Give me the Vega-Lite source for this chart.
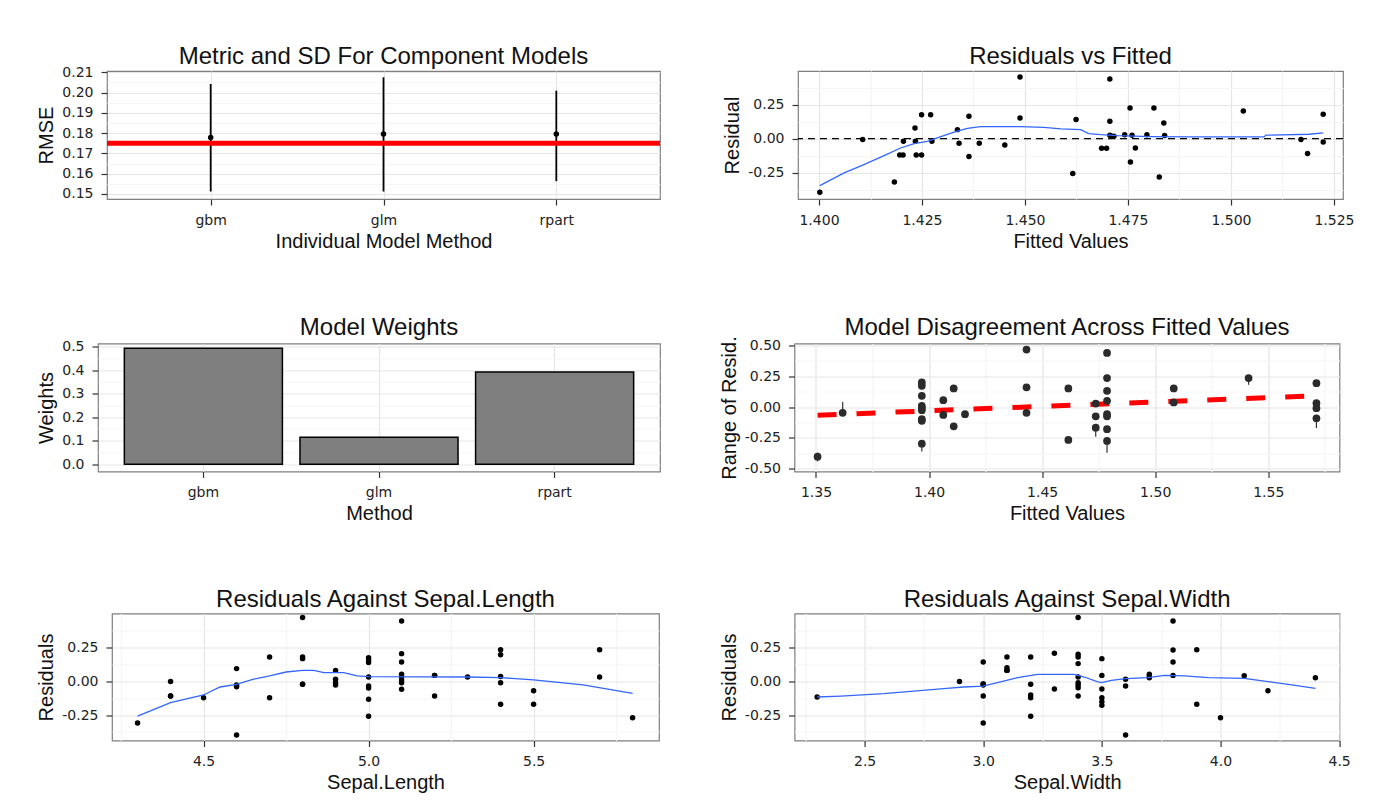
{
  "$schema": "https://vega.github.io/schema/vega-lite/v6.json",
  "background": "white",
  "padding": {"left": 35, "top": 44, "right": 5, "bottom": 5},
  "spacing": 62.5,
  "config": {
    "font": "Liberation Sans",
    "view": {"stroke": "#7f7f7f", "strokeWidth": 1.2, "fill": "white"},
    "axis": {"domain": false, "grid": true, "gridColor": "#e5e5e5", "gridWidth": 1.2, "tickColor": "#333333", "tickSize": 6, "tickWidth": 1.2, "labelFont": "DejaVu Sans", "labelFontSize": 14, "labelColor": "#222222", "labelFlush": false, "labelOverlap": false, "titleFont": "Liberation Sans", "titleFontSize": 20, "titleFontWeight": "normal", "titleColor": "#111111"},
    "axisX": {"labelPadding": 8, "titlePadding": 4, "labelAngle": 0},
    "axisY": {"labelPadding": 8, "titlePadding": 5},
    "title": {"font": "Liberation Sans", "fontSize": 24, "fontWeight": "normal", "color": "#111111", "offset": 4, "frame": "group", "anchor": "middle"}
  },
  "vconcat": [
    {
      "spacing": 0,
      "hconcat": [
        {"width": 1, "height": 1, "data": {"values": []}, "mark": "point", "view": {"stroke": null, "fill": "white"}},
        {
          "spacing": 58,
          "hconcat": [
            {
              "width": 553, "height": 128,
              "title": {"text": "Metric and SD For Component Models", "offset": -4.2},
              "data": {"values": [
                {"method": "gbm", "RMSE": 0.1778, "lo": 0.1512, "hi": 0.2042},
                {"method": "glm", "RMSE": 0.1795, "lo": 0.1512, "hi": 0.2075},
                {"method": "rpart", "RMSE": 0.1795, "lo": 0.1563, "hi": 0.2009}
              ]},
              "layer": [
                {
                  "mark": {"type": "rule", "color": "black", "strokeWidth": 1.8},
                  "encoding": {
                    "x": {"field": "method", "type": "nominal", "scale": {"type": "point", "padding": 0.6}, "axis": {"title": "Individual Model Method"}},
                    "y": {"field": "lo", "type": "quantitative", "scale": {"domain": [0.1475, 0.2106], "nice": false, "zero": false},
                      "axis": {"title": "RMSE", "tickCount": 100, "labelOverlap": false, "values": [0.15, 0.155, 0.16, 0.165, 0.17, 0.175, 0.18, 0.185, 0.19, 0.195, 0.2, 0.205, 0.21],
                        "labelExpr": "abs(datum.value*100-round(datum.value*100))<0.001 ? format(datum.value,'.2f') : ''",
                        "labelFontSize": {"condition": {"test": "abs(datum.value*100-round(datum.value*100))<0.001", "value": 14}, "value": 0},
                        "gridColor": {"condition": {"test": "abs(datum.value*100-round(datum.value*100))<0.001", "value": "#e5e5e5"}, "value": "#f5f5f5"},
                        "tickOpacity": {"condition": {"test": "abs(datum.value*100-round(datum.value*100))<0.001", "value": 1}, "value": 0}}},
                    "y2": {"field": "hi"}
                  }
                },
                {
                  "data": {"values": [{"RMSE": 0.175}]},
                  "mark": {"type": "rule", "color": "#ff0000", "strokeWidth": 5},
                  "encoding": {
                    "y": {"field": "RMSE", "type": "quantitative", "scale": {"domain": [0.1475, 0.2106], "nice": false, "zero": false}}
                  }
                },
                {
                  "mark": {"type": "point", "filled": true, "color": "black", "size": 30, "opacity": 1},
                  "encoding": {
                    "x": {"field": "method", "type": "nominal", "scale": {"type": "point", "padding": 0.6}},
                    "y": {"field": "RMSE", "type": "quantitative", "scale": {"domain": [0.1475, 0.2106], "nice": false, "zero": false}}
                  }
                }
              ]
            },
            {
              "width": 545, "height": 128,
              "title": {"text": "Residuals vs Fitted", "offset": 1.6},
              "layer": [
                {
                  "data": {"values": [
                    {"fitted": 1.4002, "residual": -0.395}, {"fitted": 1.4106, "residual": -0.007}, {"fitted": 1.4183, "residual": -0.319},
                    {"fitted": 1.4196, "residual": -0.12}, {"fitted": 1.4204, "residual": -0.12}, {"fitted": 1.4205, "residual": -0.02},
                    {"fitted": 1.4233, "residual": 0.078}, {"fitted": 1.4234, "residual": -0.02}, {"fitted": 1.4236, "residual": -0.12},
                    {"fitted": 1.4249, "residual": -0.12}, {"fitted": 1.4249, "residual": 0.176}, {"fitted": 1.4271, "residual": 0.176},
                    {"fitted": 1.4274, "residual": -0.02}, {"fitted": 1.4336, "residual": 0.066}, {"fitted": 1.434, "residual": -0.034},
                    {"fitted": 1.4364, "residual": 0.164}, {"fitted": 1.4364, "residual": -0.132}, {"fitted": 1.4389, "residual": -0.034},
                    {"fitted": 1.4451, "residual": -0.047}, {"fitted": 1.4488, "residual": 0.453}, {"fitted": 1.4488, "residual": 0.152},
                    {"fitted": 1.4616, "residual": -0.257}, {"fitted": 1.4624, "residual": 0.14}, {"fitted": 1.4686, "residual": -0.071},
                    {"fitted": 1.4698, "residual": -0.071}, {"fitted": 1.4706, "residual": 0.439}, {"fitted": 1.4706, "residual": 0.127},
                    {"fitted": 1.4706, "residual": 0.025}, {"fitted": 1.471, "residual": 0.017}, {"fitted": 1.4716, "residual": 0.017},
                    {"fitted": 1.4742, "residual": 0.029}, {"fitted": 1.4755, "residual": 0.225}, {"fitted": 1.4756, "residual": -0.172},
                    {"fitted": 1.476, "residual": 0.025}, {"fitted": 1.4768, "residual": -0.069}, {"fitted": 1.4796, "residual": 0.029},
                    {"fitted": 1.4813, "residual": 0.225}, {"fitted": 1.4826, "residual": -0.282}, {"fitted": 1.4837, "residual": 0.115},
                    {"fitted": 1.4839, "residual": 0.022}, {"fitted": 1.503, "residual": 0.203}, {"fitted": 1.517, "residual": -0.007},
                    {"fitted": 1.5186, "residual": -0.11}, {"fitted": 1.5224, "residual": 0.179}, {"fitted": 1.5224, "residual": -0.025}
                  ]},
                  "mark": {"type": "point", "filled": true, "color": "black", "size": 30, "opacity": 1},
                  "encoding": {
                    "x": {"field": "fitted", "type": "quantitative", "scale": {"domain": [1.3949, 1.5272], "nice": false, "zero": false},
                      "axis": {"title": "Fitted Values", "tickCount": 100, "labelOverlap": false, "values": [1.4, 1.4125, 1.425, 1.4375, 1.45, 1.4625, 1.475, 1.4875, 1.5, 1.5125, 1.525],
                        "labelExpr": "abs(datum.value*40-round(datum.value*40))<0.001 ? format(datum.value,'.3f') : ''",
                        "labelFontSize": {"condition": {"test": "abs(datum.value*40-round(datum.value*40))<0.001", "value": 14}, "value": 0},
                        "gridColor": {"condition": {"test": "abs(datum.value*40-round(datum.value*40))<0.001", "value": "#e5e5e5"}, "value": "#f5f5f5"},
                        "tickOpacity": {"condition": {"test": "abs(datum.value*40-round(datum.value*40))<0.001", "value": 1}, "value": 0}}},
                    "y": {"field": "residual", "type": "quantitative", "scale": {"domain": [-0.444, 0.497], "nice": false, "zero": false},
                      "axis": {"title": "Residual", "tickCount": 100, "labelOverlap": false, "values": [-0.375, -0.25, -0.125, 0, 0.125, 0.25, 0.375],
                        "labelExpr": "abs(datum.value*4-round(datum.value*4))<0.001 ? (datum.value<0 ? '-' : '') + format(abs(datum.value),'.2f') : ''",
                        "labelFontSize": {"condition": {"test": "abs(datum.value*4-round(datum.value*4))<0.001", "value": 14}, "value": 0},
                        "gridColor": {"condition": {"test": "abs(datum.value*4-round(datum.value*4))<0.001", "value": "#e5e5e5"}, "value": "#f5f5f5"},
                        "tickOpacity": {"condition": {"test": "abs(datum.value*4-round(datum.value*4))<0.001", "value": 1}, "value": 0}}}
                  }
                },
                {
                  "data": {"values": [{"residual": 0}]},
                  "mark": {"type": "rule", "color": "black", "strokeWidth": 1.3, "strokeDash": [7, 5]},
                  "encoding": {
                    "y": {"field": "residual", "type": "quantitative", "scale": {"domain": [-0.444, 0.497], "nice": false, "zero": false}}
                  }
                },
                {
                  "data": {"values": [
                    {"fitted": 1.4002, "residual": -0.346}, {"fitted": 1.4061, "residual": -0.252}, {"fitted": 1.4109, "residual": -0.191},
                    {"fitted": 1.4158, "residual": -0.125}, {"fitted": 1.4198, "residual": -0.069}, {"fitted": 1.4231, "residual": -0.037},
                    {"fitted": 1.4263, "residual": -0.02}, {"fitted": 1.4287, "residual": 0.005}, {"fitted": 1.4328, "residual": 0.047},
                    {"fitted": 1.436, "residual": 0.076}, {"fitted": 1.4392, "residual": 0.088}, {"fitted": 1.4489, "residual": 0.088},
                    {"fitted": 1.4546, "residual": 0.083}, {"fitted": 1.4587, "residual": 0.071}, {"fitted": 1.4635, "residual": 0.066},
                    {"fitted": 1.4655, "residual": 0.037}, {"fitted": 1.4684, "residual": 0.029}, {"fitted": 1.4724, "residual": 0.022},
                    {"fitted": 1.4805, "residual": 0.015}, {"fitted": 1.4906, "residual": 0.012}, {"fitted": 1.508, "residual": 0.012},
                    {"fitted": 1.5085, "residual": 0.025}, {"fitted": 1.519, "residual": 0.032}, {"fitted": 1.5224, "residual": 0.042}
                  ]},
                  "mark": {"type": "line", "color": "#3366ff", "strokeWidth": 1.3},
                  "encoding": {
                    "x": {"field": "fitted", "type": "quantitative", "scale": {"domain": [1.3949, 1.5272], "nice": false, "zero": false}},
                    "y": {"field": "residual", "type": "quantitative", "scale": {"domain": [-0.444, 0.497], "nice": false, "zero": false}}
                  }
                }
              ]
            }
          ]
        }
      ]
    },
    {
      "spacing": 62,
      "vconcat": [
        {
          "spacing": 0,
          "hconcat": [
            {"width": 1, "height": 1, "data": {"values": []}, "mark": "point", "view": {"stroke": null, "fill": "white"}},
            {
              "spacing": 57.5,
              "hconcat": [
                {
                  "width": 562, "height": 128,
                  "title": {"text": "Model Weights", "offset": -0.3},
                  "data": {"values": [
                    {"Method": "gbm", "Weights": 0.493},
                    {"Method": "glm", "Weights": 0.115},
                    {"Method": "rpart", "Weights": 0.392}
                  ]},
                  "mark": {"type": "bar", "fill": "#7f7f7f", "stroke": "black", "strokeWidth": 1.5},
                  "encoding": {
                    "x": {"field": "Method", "type": "nominal", "scale": {"paddingInner": 0.1, "paddingOuter": 0.15}, "axis": {"title": "Method", "bandPosition": 0.5}},
                    "y": {"field": "Weights", "type": "quantitative", "scale": {"domain": [-0.031, 0.513], "nice": false, "zero": false},
                      "axis": {"title": "Weights", "tickCount": 100, "labelOverlap": false, "values": [0, 0.05, 0.1, 0.15, 0.2, 0.25, 0.3, 0.35, 0.4, 0.45, 0.5],
                        "labelExpr": "abs(datum.value*10-round(datum.value*10))<0.001 ? format(datum.value,'.1f') : ''",
                        "labelFontSize": {"condition": {"test": "abs(datum.value*10-round(datum.value*10))<0.001", "value": 14}, "value": 0},
                        "gridColor": {"condition": {"test": "abs(datum.value*10-round(datum.value*10))<0.001", "value": "#e5e5e5"}, "value": "#f5f5f5"},
                        "tickOpacity": {"condition": {"test": "abs(datum.value*10-round(datum.value*10))<0.001", "value": 1}, "value": 0}}}
                  }
                },
                {
                  "width": 545, "height": 128,
                  "title": {"text": "Model Disagreement Across Fitted Values", "offset": -4},
                  "layer": [
                    {
                      "data": {"values": [
                        {"fitted": 1.3507, "resid": -0.44, "hi": -0.37}, {"fitted": 1.3618, "resid": -0.06, "hi": 0.04},
                        {"fitted": 1.3968, "resid": -0.36, "hi": -0.28}, {"fitted": 1.4787, "resid": -0.37, "hi": -0.26},
                        {"fitted": 1.4737, "resid": -0.24, "hi": -0.15}, {"fitted": 1.5413, "resid": 0.18, "hi": 0.24},
                        {"fitted": 1.5713, "resid": -0.17, "hi": -0.08}
                      ]},
                      "mark": {"type": "rule", "color": "#333333", "strokeWidth": 1.2},
                      "encoding": {
                        "x": {"field": "fitted", "type": "quantitative", "scale": {"domain": [1.3405, 1.5815], "nice": false, "zero": false},
                          "axis": {"title": "Fitted Values", "tickCount": 100, "labelOverlap": false, "values": [1.35, 1.375, 1.4, 1.425, 1.45, 1.475, 1.5, 1.525, 1.55, 1.575],
                            "labelExpr": "abs(datum.value*20-round(datum.value*20))<0.001 ? format(datum.value,'.2f') : ''",
                            "labelFontSize": {"condition": {"test": "abs(datum.value*20-round(datum.value*20))<0.001", "value": 14}, "value": 0},
                            "gridColor": {"condition": {"test": "abs(datum.value*20-round(datum.value*20))<0.001", "value": "#e5e5e5"}, "value": "#f5f5f5"},
                            "tickOpacity": {"condition": {"test": "abs(datum.value*20-round(datum.value*20))<0.001", "value": 1}, "value": 0}}},
                        "y": {"field": "resid", "type": "quantitative", "scale": {"domain": [-0.522, 0.514], "nice": false, "zero": false},
                          "axis": {"title": "Range of Resid.", "tickCount": 100, "labelOverlap": false, "values": [-0.5, -0.375, -0.25, -0.125, 0, 0.125, 0.25, 0.375, 0.5],
                            "labelExpr": "abs(datum.value*4-round(datum.value*4))<0.001 ? (datum.value<0 ? '-' : '') + format(abs(datum.value),'.2f') : ''",
                            "labelFontSize": {"condition": {"test": "abs(datum.value*4-round(datum.value*4))<0.001", "value": 14}, "value": 0},
                            "gridColor": {"condition": {"test": "abs(datum.value*4-round(datum.value*4))<0.001", "value": "#e5e5e5"}, "value": "#f5f5f5"},
                            "tickOpacity": {"condition": {"test": "abs(datum.value*4-round(datum.value*4))<0.001", "value": 1}, "value": 0}}},
                        "y2": {"field": "hi"}
                      }
                    },
                    {
                      "data": {"values": [{"fitted": 1.3507, "resid": -0.066}, {"fitted": 1.5707, "resid": 0.091}]},
                      "mark": {"type": "line", "color": "#ff0000", "strokeWidth": 5, "strokeDash": [19, 20]},
                      "encoding": {
                        "x": {"field": "fitted", "type": "quantitative", "scale": {"domain": [1.3405, 1.5815], "nice": false, "zero": false}},
                        "y": {"field": "resid", "type": "quantitative", "scale": {"domain": [-0.522, 0.514], "nice": false, "zero": false}}
                      }
                    },
                    {
                      "data": {"values": [
                        {"fitted": 1.3507, "resid": -0.402}, {"fitted": 1.3618, "resid": -0.047},
                        {"fitted": 1.3968, "resid": 0.199}, {"fitted": 1.3968, "resid": 0.172}, {"fitted": 1.3968, "resid": 0.091},
                        {"fitted": 1.3968, "resid": 0.009}, {"fitted": 1.3968, "resid": -0.009}, {"fitted": 1.3968, "resid": -0.026},
                        {"fitted": 1.3968, "resid": -0.099}, {"fitted": 1.3968, "resid": -0.112}, {"fitted": 1.3968, "resid": -0.297},
                        {"fitted": 1.4063, "resid": 0.055}, {"fitted": 1.4063, "resid": -0.064},
                        {"fitted": 1.4109, "resid": 0.15}, {"fitted": 1.4109, "resid": -0.156},
                        {"fitted": 1.4159, "resid": -0.058},
                        {"fitted": 1.4431, "resid": 0.465}, {"fitted": 1.4431, "resid": 0.159}, {"fitted": 1.4431, "resid": -0.047},
                        {"fitted": 1.4616, "resid": 0.15}, {"fitted": 1.4616, "resid": -0.267},
                        {"fitted": 1.4737, "resid": 0.028}, {"fitted": 1.4737, "resid": -0.075}, {"fitted": 1.4737, "resid": -0.167},
                        {"fitted": 1.4787, "resid": 0.438}, {"fitted": 1.4787, "resid": 0.234}, {"fitted": 1.4787, "resid": 0.131},
                        {"fitted": 1.4787, "resid": 0.05}, {"fitted": 1.4787, "resid": -0.058}, {"fitted": 1.4787, "resid": -0.075},
                        {"fitted": 1.4787, "resid": -0.18}, {"fitted": 1.4787, "resid": -0.275},
                        {"fitted": 1.5082, "resid": 0.15}, {"fitted": 1.5082, "resid": 0.037},
                        {"fitted": 1.5413, "resid": 0.234},
                        {"fitted": 1.5713, "resid": 0.193}, {"fitted": 1.5713, "resid": 0.031}, {"fitted": 1.5713, "resid": -0.01}, {"fitted": 1.5713, "resid": -0.091}
                      ]},
                      "mark": {"type": "point", "filled": true, "color": "#2b2b2b", "size": 60, "opacity": 1},
                      "encoding": {
                        "x": {"field": "fitted", "type": "quantitative", "scale": {"domain": [1.3405, 1.5815], "nice": false, "zero": false}},
                        "y": {"field": "resid", "type": "quantitative", "scale": {"domain": [-0.522, 0.514], "nice": false, "zero": false}}
                      }
                    }
                  ]
                }
              ]
            }
          ]
        },
        {
          "spacing": 0,
          "hconcat": [
            {"width": 1, "height": 1, "data": {"values": []}, "mark": "point", "view": {"stroke": null, "fill": "white"}},
            {
              "spacing": 58.6,
              "hconcat": [
                {
                  "width": 547, "height": 127,
                  "title": {"text": "Residuals Against Sepal.Length", "offset": 1.6},
                  "layer": [
                    {
                      "data": {"values": [
                        {"x": 4.3, "r": -0.309},
                        {"x": 4.4, "r": -0.002}, {"x": 4.4, "r": -0.109}, {"x": 4.4, "r": -0.109},
                        {"x": 4.5, "r": -0.121},
                        {"x": 4.6, "r": 0.094}, {"x": 4.6, "r": -0.027}, {"x": 4.6, "r": -0.04}, {"x": 4.6, "r": -0.398},
                        {"x": 4.7, "r": 0.18}, {"x": 4.7, "r": -0.121},
                        {"x": 4.8, "r": 0.472}, {"x": 4.8, "r": 0.18}, {"x": 4.8, "r": 0.168}, {"x": 4.8, "r": -0.022}, {"x": 4.8, "r": -0.022},
                        {"x": 4.9, "r": 0.081}, {"x": 4.9, "r": 0.015}, {"x": 4.9, "r": -0.01}, {"x": 4.9, "r": -0.027},
                        {"x": 5.0, "r": 0.175}, {"x": 5.0, "r": 0.158}, {"x": 5.0, "r": 0.14}, {"x": 5.0, "r": 0.032},
                        {"x": 5.0, "r": -0.035}, {"x": 5.0, "r": -0.05}, {"x": 5.0, "r": -0.133}, {"x": 5.0, "r": -0.259},
                        {"x": 5.1, "r": 0.447}, {"x": 5.1, "r": 0.205}, {"x": 5.1, "r": 0.143}, {"x": 5.1, "r": 0.052},
                        {"x": 5.1, "r": 0.032}, {"x": 5.1, "r": 0.01}, {"x": 5.1, "r": -0.01}, {"x": 5.1, "r": -0.059},
                        {"x": 5.2, "r": 0.044}, {"x": 5.2, "r": 0.044}, {"x": 5.2, "r": -0.109},
                        {"x": 5.3, "r": 0.032},
                        {"x": 5.4, "r": 0.233}, {"x": 5.4, "r": 0.196}, {"x": 5.4, "r": 0.035}, {"x": 5.4, "r": -0.01}, {"x": 5.4, "r": -0.17},
                        {"x": 5.5, "r": -0.069}, {"x": 5.5, "r": -0.17},
                        {"x": 5.7, "r": 0.233}, {"x": 5.7, "r": 0.032},
                        {"x": 5.8, "r": -0.269}
                      ]},
                      "mark": {"type": "point", "filled": true, "color": "black", "size": 30, "opacity": 1},
                      "encoding": {
                        "x": {"field": "x", "type": "quantitative", "scale": {"domain": [4.2225, 5.88], "nice": false, "zero": false},
                          "axis": {"title": "Sepal.Length", "tickCount": 100, "labelOverlap": false, "values": [4.25, 4.5, 4.75, 5, 5.25, 5.5, 5.75],
                            "labelExpr": "abs(datum.value*2-round(datum.value*2))<0.001 ? format(datum.value,'.1f') : ''",
                            "labelFontSize": {"condition": {"test": "abs(datum.value*2-round(datum.value*2))<0.001", "value": 14}, "value": 0},
                            "gridColor": {"condition": {"test": "abs(datum.value*2-round(datum.value*2))<0.001", "value": "#e5e5e5"}, "value": "#f5f5f5"},
                            "tickOpacity": {"condition": {"test": "abs(datum.value*2-round(datum.value*2))<0.001", "value": 1}, "value": 0}}},
                        "y": {"field": "r", "type": "quantitative", "scale": {"domain": [-0.438, 0.502], "nice": false, "zero": false},
                          "axis": {"title": "Residuals", "tickCount": 100, "labelOverlap": false, "values": [-0.375, -0.25, -0.125, 0, 0.125, 0.25, 0.375],
                            "labelExpr": "abs(datum.value*4-round(datum.value*4))<0.001 ? (datum.value<0 ? '-' : '') + format(abs(datum.value),'.2f') : ''",
                            "labelFontSize": {"condition": {"test": "abs(datum.value*4-round(datum.value*4))<0.001", "value": 14}, "value": 0},
                            "gridColor": {"condition": {"test": "abs(datum.value*4-round(datum.value*4))<0.001", "value": "#e5e5e5"}, "value": "#f5f5f5"},
                            "tickOpacity": {"condition": {"test": "abs(datum.value*4-round(datum.value*4))<0.001", "value": 1}, "value": 0}}}
                      }
                    },
                    {
                      "data": {"values": [
                        {"x": 4.3, "r": -0.257}, {"x": 4.4, "r": -0.158}, {"x": 4.5, "r": -0.101}, {"x": 4.55, "r": -0.042},
                        {"x": 4.6, "r": -0.022}, {"x": 4.649, "r": 0.015}, {"x": 4.7, "r": 0.04}, {"x": 4.75, "r": 0.069},
                        {"x": 4.8, "r": 0.081}, {"x": 4.834, "r": 0.081}, {"x": 4.865, "r": 0.064}, {"x": 4.925, "r": 0.064},
                        {"x": 4.965, "r": 0.04}, {"x": 5.0, "r": 0.035}, {"x": 5.3, "r": 0.032}, {"x": 5.4, "r": 0.028},
                        {"x": 5.5, "r": 0.01}, {"x": 5.65, "r": -0.027}, {"x": 5.8, "r": -0.089}
                      ]},
                      "mark": {"type": "line", "color": "#3366ff", "strokeWidth": 1.3},
                      "encoding": {
                        "x": {"field": "x", "type": "quantitative", "scale": {"domain": [4.2225, 5.88], "nice": false, "zero": false}},
                        "y": {"field": "r", "type": "quantitative", "scale": {"domain": [-0.438, 0.502], "nice": false, "zero": false}}
                      }
                    }
                  ]
                },
                {
                  "width": 545, "height": 127,
                  "title": {"text": "Residuals Against Sepal.Width", "offset": 1.6},
                  "layer": [
                    {
                      "data": {"values": [
                        {"x": 2.3, "r": -0.116},
                        {"x": 2.9, "r": -0.002},
                        {"x": 3.0, "r": 0.143}, {"x": 3.0, "r": -0.02}, {"x": 3.0, "r": -0.02}, {"x": 3.0, "r": -0.027}, {"x": 3.0, "r": -0.109}, {"x": 3.0, "r": -0.309},
                        {"x": 3.1, "r": 0.18}, {"x": 3.1, "r": 0.101}, {"x": 3.1, "r": 0.081}, {"x": 3.1, "r": 0.081},
                        {"x": 3.2, "r": 0.18}, {"x": 3.2, "r": -0.022}, {"x": 3.2, "r": -0.101}, {"x": 3.2, "r": -0.121}, {"x": 3.2, "r": -0.259},
                        {"x": 3.3, "r": 0.207}, {"x": 3.3, "r": -0.057},
                        {"x": 3.4, "r": 0.472}, {"x": 3.4, "r": 0.2}, {"x": 3.4, "r": 0.18}, {"x": 3.4, "r": 0.131}, {"x": 3.4, "r": 0.032},
                        {"x": 3.4, "r": -0.01}, {"x": 3.4, "r": -0.027}, {"x": 3.4, "r": -0.047}, {"x": 3.4, "r": -0.109},
                        {"x": 3.5, "r": 0.168}, {"x": 3.5, "r": 0.044}, {"x": 3.5, "r": -0.057}, {"x": 3.5, "r": -0.121}, {"x": 3.5, "r": -0.151}, {"x": 3.5, "r": -0.178},
                        {"x": 3.6, "r": 0.015}, {"x": 3.6, "r": -0.035}, {"x": 3.6, "r": -0.398},
                        {"x": 3.7, "r": 0.052}, {"x": 3.7, "r": 0.027}, {"x": 3.7, "r": 0.032},
                        {"x": 3.8, "r": 0.447}, {"x": 3.8, "r": 0.232}, {"x": 3.8, "r": 0.143}, {"x": 3.8, "r": 0.044},
                        {"x": 3.9, "r": 0.233}, {"x": 3.9, "r": -0.17},
                        {"x": 4.0, "r": -0.269},
                        {"x": 4.1, "r": 0.042},
                        {"x": 4.2, "r": -0.069},
                        {"x": 4.4, "r": 0.027}
                      ]},
                      "mark": {"type": "point", "filled": true, "color": "black", "size": 30, "opacity": 1},
                      "encoding": {
                        "x": {"field": "x", "type": "quantitative", "scale": {"domain": [2.205, 4.502], "nice": false, "zero": false},
                          "axis": {"title": "Sepal.Width", "tickCount": 100, "labelOverlap": false, "values": [2.25, 2.5, 2.75, 3, 3.25, 3.5, 3.75, 4, 4.25, 4.5],
                            "labelExpr": "abs(datum.value*2-round(datum.value*2))<0.001 ? format(datum.value,'.1f') : ''",
                            "labelFontSize": {"condition": {"test": "abs(datum.value*2-round(datum.value*2))<0.001", "value": 14}, "value": 0},
                            "gridColor": {"condition": {"test": "abs(datum.value*2-round(datum.value*2))<0.001", "value": "#e5e5e5"}, "value": "#f5f5f5"},
                            "tickOpacity": {"condition": {"test": "abs(datum.value*2-round(datum.value*2))<0.001", "value": 1}, "value": 0}}},
                        "y": {"field": "r", "type": "quantitative", "scale": {"domain": [-0.438, 0.502], "nice": false, "zero": false},
                          "axis": {"title": "Residuals", "tickCount": 100, "labelOverlap": false, "values": [-0.375, -0.25, -0.125, 0, 0.125, 0.25, 0.375],
                            "labelExpr": "abs(datum.value*4-round(datum.value*4))<0.001 ? (datum.value<0 ? '-' : '') + format(abs(datum.value),'.2f') : ''",
                            "labelFontSize": {"condition": {"test": "abs(datum.value*4-round(datum.value*4))<0.001", "value": 14}, "value": 0},
                            "gridColor": {"condition": {"test": "abs(datum.value*4-round(datum.value*4))<0.001", "value": "#e5e5e5"}, "value": "#f5f5f5"},
                            "tickOpacity": {"condition": {"test": "abs(datum.value*4-round(datum.value*4))<0.001", "value": 1}, "value": 0}}}
                      }
                    },
                    {
                      "data": {"values": [
                        {"x": 2.3, "r": -0.116}, {"x": 2.4, "r": -0.109}, {"x": 2.58, "r": -0.091}, {"x": 2.706, "r": -0.072},
                        {"x": 2.846, "r": -0.052}, {"x": 2.917, "r": -0.042}, {"x": 3.0, "r": -0.035}, {"x": 3.06, "r": -0.01},
                        {"x": 3.145, "r": 0.027}, {"x": 3.229, "r": 0.052}, {"x": 3.384, "r": 0.052}, {"x": 3.426, "r": 0.032},
                        {"x": 3.48, "r": -0.002}, {"x": 3.5, "r": -0.01}, {"x": 3.54, "r": 0.007}, {"x": 3.6, "r": 0.02},
                        {"x": 3.693, "r": 0.027}, {"x": 3.764, "r": 0.044}, {"x": 3.848, "r": 0.04}, {"x": 3.95, "r": 0.027},
                        {"x": 4.1, "r": 0.022}, {"x": 4.2, "r": -0.002}, {"x": 4.3, "r": -0.027}, {"x": 4.4, "r": -0.052}
                      ]},
                      "mark": {"type": "line", "color": "#3366ff", "strokeWidth": 1.3},
                      "encoding": {
                        "x": {"field": "x", "type": "quantitative", "scale": {"domain": [2.205, 4.502], "nice": false, "zero": false}},
                        "y": {"field": "r", "type": "quantitative", "scale": {"domain": [-0.438, 0.502], "nice": false, "zero": false}}
                      }
                    }
                  ]
                }
              ]
            }
          ]
        }
      ]
    }
  ]
}
